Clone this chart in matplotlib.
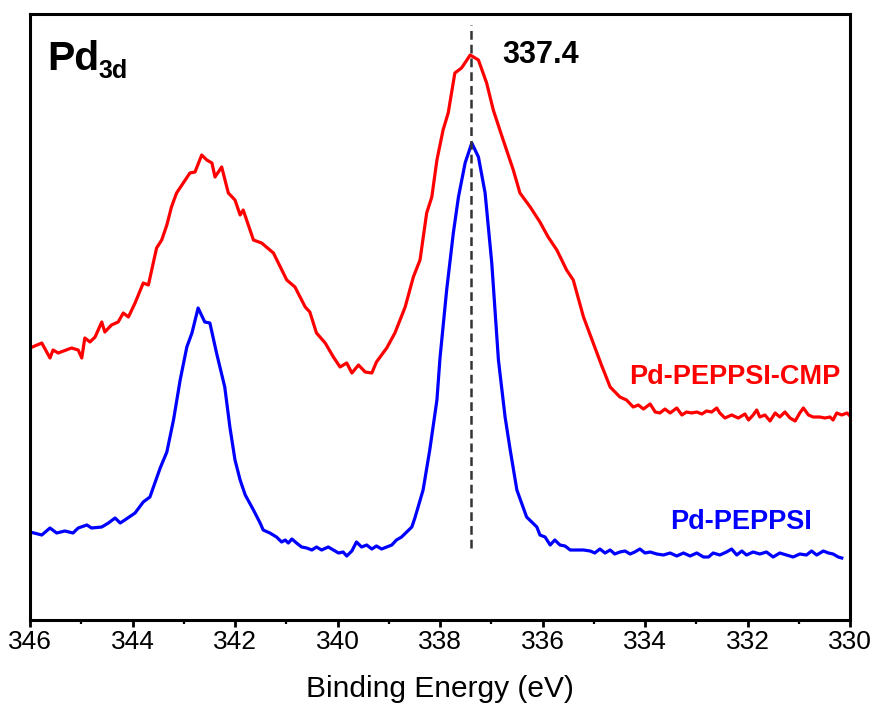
import matplotlib
matplotlib.use("Agg")
import matplotlib.pyplot as plt
from matplotlib.ticker import MultipleLocator

# ---- data (binding energy in eV, intensity in arbitrary units) ----
cmp_energy = [346.00, 345.77, 345.61, 345.55, 345.45, 345.19, 345.06, 344.99, 344.93, 344.83,
              344.73, 344.60, 344.54, 344.41, 344.28, 344.18, 344.08, 343.95, 343.79, 343.69,
              343.53, 343.43, 343.33, 343.24, 343.14, 343.01, 342.88, 342.78, 342.65, 342.55,
              342.45, 342.39, 342.26, 342.13, 342.00, 341.90, 341.84, 341.64, 341.48, 341.25,
              340.99, 340.83, 340.63, 340.54, 340.41, 340.24, 340.08, 339.95, 339.82, 339.72,
              339.59, 339.46, 339.33, 339.24, 339.04, 338.88, 338.68, 338.52, 338.39, 338.26,
              338.16, 338.06, 337.94, 337.84, 337.71, 337.58, 337.41, 337.25, 337.09, 336.96,
              336.80, 336.57, 336.44, 336.24, 336.05, 335.89, 335.72, 335.53, 335.40, 335.20,
              335.01, 334.85, 334.68,
              334.49, 334.36, 334.23, 334.13, 334.03, 333.90, 333.80, 333.71, 333.61, 333.51,
              333.38, 333.28, 333.19, 333.09, 332.99, 332.89, 332.80, 332.70, 332.60, 332.54,
              332.44, 332.31, 332.18, 332.05, 331.98, 331.89, 331.82, 331.76, 331.66, 331.56,
              331.46, 331.37, 331.27, 331.17, 331.07, 330.98, 330.91, 330.81, 330.72, 330.59,
              330.49, 330.39, 330.33, 330.26, 330.16, 330.06, 330.00]
cmp_intensity = [272, 277, 262, 270, 267, 272, 270, 262, 282, 278,
                 283, 298, 288, 295, 298, 307, 303, 317, 337, 335,
                 372, 380, 395, 413, 427, 437, 447, 448, 465, 460,
                 457, 443, 453, 427, 420, 405, 410, 380, 377, 367,
                 340, 333, 313, 308, 287, 277, 263, 253, 257, 247,
                 255, 248, 247, 258, 272, 287, 313, 343, 360, 407,
                 423, 460, 490, 507, 547, 552, 565, 560, 537, 510,
                 485, 450, 427, 413, 398, 383, 370, 350, 340, 303,
                 277, 255, 233,
                 223, 220, 213, 215, 211, 216, 208, 207, 211, 207,
                 212, 205, 208, 207, 208, 206, 209, 208, 212, 207,
                 202, 205, 202, 206, 200, 205, 210, 203, 205, 199,
                 207, 203, 208, 202, 199, 207, 212, 205, 203, 203,
                 202, 203, 200, 207, 205, 207, 204]

peppsi_energy = [346.00, 345.77, 345.61, 345.48, 345.32, 345.16, 345.06, 344.89, 344.80, 344.60,
                 344.47, 344.34, 344.24, 344.15, 343.95, 343.79, 343.66, 343.46, 343.33, 343.20,
                 343.07, 342.94, 342.84, 342.72, 342.59, 342.49, 342.36, 342.20, 342.10, 342.00,
                 341.90, 341.80, 341.64, 341.51,
                 341.45, 341.32, 341.19, 341.09, 341.02, 340.96, 340.89, 340.80, 340.70, 340.60,
                 340.50, 340.41, 340.31, 340.18, 340.08, 339.98, 339.89, 339.82, 339.72, 339.63,
                 339.53, 339.43, 339.33, 339.24, 339.14, 339.04, 338.94, 338.85, 338.75, 338.65,
                 338.55, 338.49,
                 338.33, 338.20, 338.06, 338.00, 337.87, 337.74, 337.64, 337.51, 337.38, 337.25,
                 337.12, 336.99, 336.86, 336.73, 336.63, 336.50, 336.31, 336.11,
                 336.05, 335.95, 335.85, 335.76, 335.66, 335.56, 335.46, 335.37, 335.20, 335.07,
                 334.98, 334.88, 334.78, 334.68, 334.59, 334.49, 334.39, 334.29, 334.20, 334.10,
                 334.00, 333.90, 333.77, 333.64, 333.51, 333.38, 333.25, 333.12, 332.99, 332.86,
                 332.76, 332.67, 332.54, 332.41, 332.31, 332.21, 332.11, 332.02, 331.89, 331.76,
                 331.63, 331.50, 331.37, 331.24, 331.11, 330.98, 330.85, 330.75, 330.65, 330.52,
                 330.42, 330.33, 330.23, 330.16]
peppsi_intensity = [88, 85, 92, 87, 89, 87, 92, 95, 92, 93,
                    97, 102, 97, 100, 107, 118, 123, 152, 168, 200,
                    240, 273, 287, 312, 298, 297, 267, 233, 193, 160,
                    140, 125, 110, 97,
                    90, 87, 83, 78, 80, 77, 81, 77, 73, 72,
                    70, 73, 70, 73, 70, 67, 68, 64, 69, 78,
                    73, 75, 71, 74, 71, 73, 75, 80, 83, 88,
                    93, 102,
                    130, 170, 220, 262, 330, 387, 423, 457, 477, 463,
                    427, 357, 260, 203, 170, 130, 103, 93,
                    85, 83, 75, 80, 75, 74, 70, 70, 70, 69,
                    67, 71, 67, 70, 66, 68, 69, 66, 68, 71,
                    67, 68, 66, 65, 67, 64, 67, 64, 67, 63,
                    63, 67, 65, 68, 71, 65, 69, 65, 68, 66,
                    68, 63, 67, 65, 63, 66, 65, 69, 65, 69,
                    67, 66, 63, 62]

peak_position = 337.4
peak_label = "337.4"
series_labels = ["Pd-PEPPSI-CMP", "Pd-PEPPSI"]
x_ticks = [346, 344, 342, 340, 338, 336, 334, 332, 330]
x_label = "Binding Energy (eV)"

# ---- figure ----
W, H = 877, 704
fig = plt.figure(figsize=(W / 100, H / 100), dpi=100)
fig.patch.set_facecolor("white")
ax = fig.add_axes([30 / W, (H - 620) / H, 820 / W, 606 / H])

ax.plot(cmp_energy, cmp_intensity, color="#ff0000", lw=2.3, solid_joinstyle="round")
ax.plot(peppsi_energy, peppsi_intensity, color="#0000ff", lw=2.3, solid_joinstyle="round")
ax.plot([peak_position, peak_position], [72, 595], color="#333333", lw=1.8,
        linestyle=(0, (3.5, 2)))

ax.set_xlim(346, 330)
ax.set_ylim(0, 606)
ax.set_yticks([])
ax.set_xticks(x_ticks)
ax.set_xticklabels([str(t) for t in x_ticks], family="Liberation Sans", fontsize=19)
ax.xaxis.set_minor_locator(MultipleLocator(1))
ax.tick_params(axis="x", which="major", direction="out", length=5, width=2, pad=2)
ax.tick_params(axis="x", which="minor", direction="out", length=3, width=1.6)
for s in ax.spines.values():
    s.set_linewidth(2.2)
ax.set_xlabel(x_label, family="Liberation Sans", fontsize=21.5, va="baseline")
ax.xaxis.set_label_coords(0.5, (620 - 697) / 606)

# annotations
ax.text((47 - 30) / 820, (620 - 70) / 606, "Pd", transform=ax.transAxes,
        family="Liberation Sans", fontweight="bold", fontsize=29.5, va="baseline", ha="left")
ax.text((98 - 30) / 820, (620 - 78) / 606, "3d", transform=ax.transAxes,
        family="Liberation Sans", fontweight="bold", fontsize=18, va="baseline", ha="left")
ax.text(336.03, 565, peak_label, family="Liberation Sans", fontweight="bold",
        fontsize=22, ha="center", va="center")
ax.text(330.195, 243, series_labels[0], color="#ff0000", family="Liberation Sans",
        fontweight="bold", fontsize=19.5, ha="right", va="center")
ax.text(330.74, 98, series_labels[1], color="#0000ff", family="Liberation Sans",
        fontweight="bold", fontsize=19.5, ha="right", va="center")

fig.savefig("out.png", dpi=100)
